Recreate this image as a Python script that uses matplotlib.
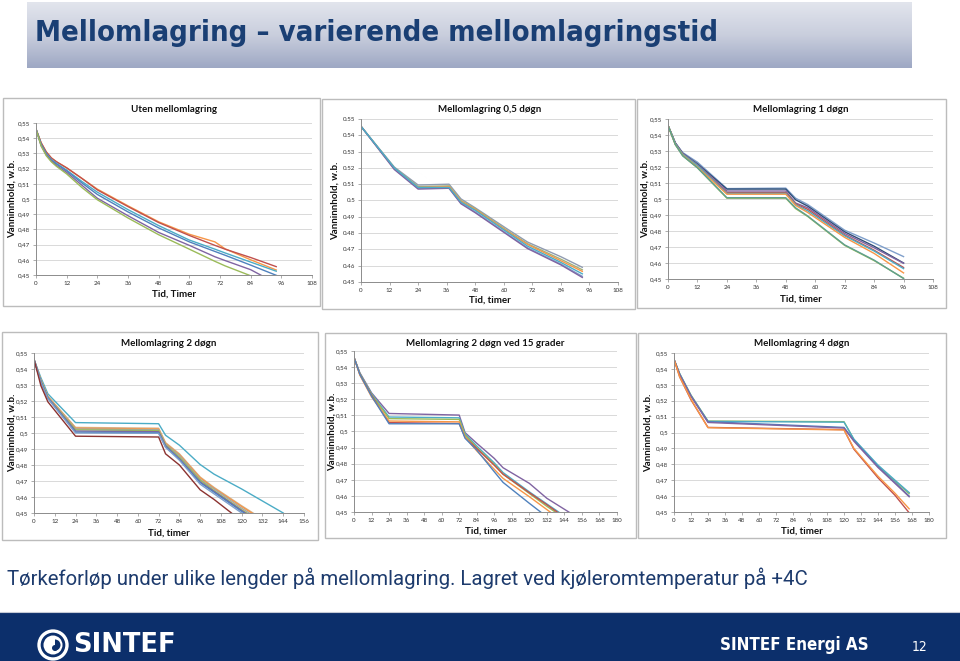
import numpy as np
import matplotlib
matplotlib.use("Agg")
import matplotlib.pyplot as plt
from matplotlib.patches import Rectangle, Circle, Wedge
from matplotlib.colors import LinearSegmentedColormap
from matplotlib.ticker import FuncFormatter, MultipleLocator

# ---------------- data ----------------
slide_title = "Mellomlagring – varierende mellomlagringstid"
caption = "Tørkeforløp under ulike lengder på mellomlagring. Lagret ved kjøleromtemperatur på +4C"
footer_org = "SINTEF Energi AS"
page_no = "12"

ylabel = "Vanninnhold, w.b."

# Panel 1: Uten mellomlagring
p1_title = "Uten mellomlagring"
p1_xlabel = "Tid, Timer"
p1_t = [0, 2, 4, 6, 8, 12, 18, 24, 36, 48, 60, 70, 74, 84, 94]
p1_orange = [.546, .537, .531, .527, .5245, .5205, .5135, .5065, .4955, .485, .4768, .4718, .4672, .460, .4533]
p1_red = [.546, .537, .531, .527, .5245, .5205, .5135, .506, .495, .4845, .4760, .4695, .4670, .4615, .4555]
p1_aqua = [.546, .536, .530, .526, .5235, .519, .5115, .5045, .493, .4825, .473, .467, .4645, .4585, .4525]
p1_blue = [.546, .536, .5295, .5255, .523, .5185, .5105, .503, .4915, .481, .4718, .4655, .463, .4565, .4498]
p1_purple = [.546, .535, .529, .525, .522, .5175, .509, .5005, .489, .478, .4695, .462, .4595, .4535, .4445]
p1_green = [.546, .535, .5285, .5245, .5215, .5165, .5075, .4995, .4875, .4765, .467, .459, .456, .4495, .444]

# Panel 2: Mellomlagring 0,5 døgn
p2_title = "Mellomlagring 0,5 døgn"
p2_xlabel = "Tid, timer"
p2_t = [0, 14, 24, 37, 42, 48, 62, 70, 84, 93]
p2_s1 = [.5455, .5205, .5095, .5100, .5010, .4955, .4820, .4745, .4655, .4590]
p2_s2 = [.5455, .5200, .5085, .5090, .5000, .4950, .4810, .4735, .4640, .4575]
p2_s3 = [.5455, .5195, .5080, .5085, .4995, .4945, .4805, .4730, .4630, .4565]
p2_s4 = [.5455, .5195, .5075, .5075, .4985, .4930, .4790, .4710, .4610, .4535]
p2_s5 = [.5455, .5190, .5070, .5075, .4980, .4925, .4785, .4705, .4605, .4528]
p2_s6 = [.5455, .5200, .5080, .5080, .4990, .4940, .4800, .4720, .4620, .4550]

# Panel 3: Mellomlagring 1 døgn
p3_title = "Mellomlagring 1 døgn"
p3_xlabel = "Tid, timer"
p3_t = [0, 3, 6, 12, 24, 48, 52, 57, 72, 84, 96]
p3_lightblue = [.546, .535, .529, .523, .5065, .5068, .5005, .4965, .4805, .4725, .4640]
p3_darkblue = [.546, .535, .5285, .522, .5062, .5062, .4995, .4955, .4795, .4705, .4600]
p3_purple = [.546, .535, .5285, .5215, .5050, .5050, .4975, .4945, .4785, .4695, .4598]
p3_red = [.546, .5345, .528, .521, .5040, .5040, .4970, .4935, .4775, .4680, .4572]
p3_aqua = [.546, .5345, .528, .521, .5035, .5035, .4965, .4925, .4770, .4675, .4565]
p3_orange = [.546, .534, .5275, .520, .5030, .5030, .4960, .4915, .4760, .4660, .4538]
p3_green = [.546, .534, .527, .5195, .5005, .5005, .4940, .4890, .4710, .4615, .4505]
p3_teal = [.546, .534, .527, .5195, .5008, .5008, .4945, .4893, .4713, .4618, .4503]

# Panel 4: Mellomlagring 2 døgn
p4_title = "Mellomlagring 2 døgn"
p4_xlabel = "Tid, timer"
p4_t = [0, 4, 8, 24, 72, 76, 84, 96, 104, 120, 144]
p4_aqua = [.546, .5345, .5245, .5065, .5058, .4986, .4924, .4803, .4743, .4650, .4500]
p4_s1 = [.546, .533, .5230, .5035, .5030, .4940, .4870, .4725, .4660, .4545, .4380]
p4_s2 = [.546, .533, .5228, .5030, .5025, .4935, .4865, .4720, .4655, .4540, .4375]
p4_s3 = [.546, .5325, .5225, .5025, .5020, .4930, .4860, .4710, .4650, .4530, .4365]
p4_s4 = [.546, .5325, .5222, .5020, .5015, .4925, .4850, .4705, .4640, .4520, .4355]
p4_s5 = [.546, .532, .5220, .5012, .5008, .4920, .4840, .4695, .4635, .4515, .4345]
p4_s6 = [.546, .532, .5218, .5005, .5002, .4915, .4835, .4690, .4630, .4510, .4340]
p4_s7 = [.546, .5315, .5215, .5000, .4998, .4910, .4830, .4680, .4620, .4500, .4330]
p4_darkred = [.546, .5295, .5195, .4980, .4975, .4870, .4800, .4645, .4585, .4450, .4250]

# Panel 5: Mellomlagring 2 døgn ved 15 grader
p5_title = "Mellomlagring 2 døgn ved 15 grader"
p5_xlabel = "Tid, timer"
p5_t = [0, 4, 12, 24, 72, 76, 84, 96, 102, 120, 132, 150]
p5_purple = [.546, .5365, .5240, .5112, .5102, .4993, .4927, .4833, .4775, .4678, .4585, .4483]
p5_aqua = [.546, .5360, .5235, .5090, .5085, .4985, .4910, .4805, .4745, .4625, .4550, .4438]
p5_green = [.546, .5360, .5230, .5080, .5075, .4978, .4900, .4795, .4735, .4615, .4535, .4425]
p5_red = [.546, .5355, .5225, .5055, .5050, .4965, .4895, .4790, .4735, .4620, .4545, .4430]
p5_orange = [.546, .5350, .5215, .5065, .5060, .4965, .4880, .4765, .4709, .4595, .4515, .4395]
p5_blue = [.546, .5355, .5220, .5048, .5048, .4958, .4885, .4750, .4684, .4554, .4470, .4370]

# Panel 6: Mellomlagring 4 døgn
p6_title = "Mellomlagring 4 døgn"
p6_xlabel = "Tid, timer"
p6_t = [0, 4, 12, 24, 120, 127, 144, 156, 166]
p6_green = [.546, .537, .5235, .5072, .5068, .4955, .4790, .4695, .4615]
p6_aqua = [.546, .537, .5232, .5070, .5065, .4958, .4795, .4700, .4622]
p6_blue = [.546, .5365, .5230, .5068, .5032, .4950, .4785, .4685, .4600]
p6_purple = [.546, .5365, .5228, .5063, .5028, .4945, .4780, .4680, .4596]
p6_red = [.546, .5350, .5205, .5032, .5018, .4895, .4715, .4605, .4495]
p6_orange = [.546, .5350, .5210, .5030, .5016, .4900, .4725, .4618, .4520]

# ---------------- style ----------------
C_BLUE, C_RED, C_GREEN, C_PURPLE, C_AQUA, C_ORANGE = "#4F81BD", "#C0504D", "#9BBB59", "#8064A2", "#4BACC6", "#F79646"
C_DBLUE, C_DRED, C_DGREEN, C_LBLUE, C_TAN = "#2C4D75", "#8B3230", "#5F9F8F", "#7F9FCB", "#D4B48C"
NAVY = "#0c2f6b"
TITLE_BLUE = "#1a3f74"
CHART_FONT = ["Lato", "DejaVu Sans"]

W, H = 960, 661
fig = plt.figure(figsize=(W / 100, H / 100), dpi=100)
fig.patch.set_facecolor("white")

# overlay axes in pixel coordinates
bg = fig.add_axes([0, 0, 1, 1], zorder=0)
bg.set_xlim(0, W)
bg.set_ylim(H, 0)
bg.axis("off")

# banner gradient
cmap = LinearSegmentedColormap.from_list("ban", ["#e2e5ed", "#c9cedd", "#9ea8c4"])
grad = np.linspace(0, 1, 100).reshape(-1, 1)
bg.imshow(grad, cmap=cmap, extent=[27, 912, 68, 2], aspect="auto", zorder=1)
bg.text(35, 33, slide_title, fontsize=21, fontweight="bold", color=TITLE_BLUE,
        family="DejaVu Sans", fontstretch="condensed", va="center", ha="left", zorder=2)

# caption
bg.text(7, 578, caption, fontsize=14.7, color="#1d3b6d", family=["Roboto", "DejaVu Sans"],
        fontweight="normal", va="center", ha="left", zorder=2)

# footer
bg.add_patch(Rectangle((0, 612), W, 49, facecolor=NAVY, edgecolor="none", zorder=1))
bg.plot([0, W], [611.5, 611.5], color="#c5cad6", lw=0.8, zorder=1)
# logo
bg.add_patch(Circle((53, 645), 14, facecolor="none", edgecolor="white", lw=2.4, zorder=2))
bg.add_patch(Circle((53, 645), 9.5, facecolor="white", edgecolor="none", zorder=2))
bg.add_patch(Wedge((55, 645), 5.5, 270, 90, facecolor=NAVY, edgecolor="none", zorder=3))
bg.add_patch(Circle((55, 648), 3.0, facecolor=NAVY, edgecolor="none", zorder=3))
bg.text(73, 645, "SINTEF", fontsize=18.5, fontweight="bold", color="white",
        family="DejaVu Sans", va="center", ha="left", zorder=2)
bg.text(720, 645, footer_org, fontsize=12.2, color="white", family="DejaVu Sans",
        fontstretch="condensed", fontweight="bold", va="center", ha="left", zorder=2)
bg.text(912, 647, page_no, fontsize=10, color="white", family="DejaVu Sans",
        fontstretch="condensed", va="center", ha="left", zorder=2)

# panel frames (pixel coords: left, top, right, bottom)
frames = [(3, 98, 320, 306), (322, 99, 635, 309), (637, 99, 946, 308),
          (2, 332, 318, 540), (325, 333, 636, 538), (638, 333, 946, 538)]
for (l, t, r, b) in frames:
    bg.add_patch(Rectangle((l, t), r - l, b - t, facecolor="white",
                           edgecolor="#bcbcbc", lw=1.0, zorder=1))


def make_panel(box, xmax, xstep, title, xlabel, t, series, decimal=",",
               title_y=None, xlabel_y=None, ylabel_x=None):
    l, t_, r, b = box
    ax = fig.add_axes([l / W, 1 - b / H, (r - l) / W, (b - t_) / H], zorder=2)
    ax.patch.set_alpha(0)
    for vals, col in series:
        ax.plot(t, vals, color=col, lw=1.0, solid_joinstyle="round")
    ax.set_xlim(0, xmax)
    ax.set_ylim(0.45, 0.55)
    ax.xaxis.set_major_locator(MultipleLocator(xstep))
    ax.yaxis.set_major_locator(MultipleLocator(0.01))

    def fmt(v, pos):
        s = ("%.2f" % v).rstrip("0")
        return s.replace(".", decimal)
    ax.yaxis.set_major_formatter(FuncFormatter(fmt))
    ax.grid(axis="y", color="#d9d9d9", lw=0.7)
    ax.set_axisbelow(True)
    for sp in ["top", "right"]:
        ax.spines[sp].set_visible(False)
    for sp in ["left", "bottom"]:
        ax.spines[sp].set_color("#8c8c8c")
        ax.spines[sp].set_linewidth(0.7)
    ax.tick_params(axis="both", labelsize=4.5, length=2, width=0.5, color="#8c8c8c", pad=2,
                   labelcolor="#333333")
    for lab in ax.get_xticklabels() + ax.get_yticklabels():
        lab.set_family(CHART_FONT)
    bg.text((l + r) / 2, title_y, title, fontsize=7, fontweight="bold", family=CHART_FONT,
            ha="center", va="center", color="#111111", zorder=3)
    bg.text((l + r) / 2, xlabel_y, xlabel, fontsize=7, fontweight="bold", family=CHART_FONT,
            ha="center", va="center", color="#111111", zorder=3)
    bg.text(ylabel_x, (t_ + b) / 2, ylabel, fontsize=7, fontweight="bold", family=CHART_FONT,
            ha="center", va="center", rotation=90, color="#111111", zorder=3)
    return ax


make_panel((36, 123, 312, 275), 108, 12, p1_title, p1_xlabel, p1_t,
           [(p1_orange, C_ORANGE), (p1_red, C_RED), (p1_aqua, C_AQUA), (p1_blue, C_BLUE),
            (p1_purple, C_PURPLE), (p1_green, C_GREEN)],
           decimal=",", title_y=110, xlabel_y=294, ylabel_x=12)

make_panel((361, 119, 618, 282), 108, 12, p2_title, p2_xlabel, p2_t,
           [(p2_s1, "#8f9bb0"), (p2_s2, "#a3b07a"), (p2_s3, C_ORANGE), (p2_s4, C_LBLUE),
            (p2_s5, C_PURPLE), (p2_s6, C_AQUA)],
           decimal=".", title_y=110, xlabel_y=300, ylabel_x=335)

make_panel((668, 119, 933, 279), 108, 12, p3_title, p3_xlabel, p3_t,
           [(p3_lightblue, C_LBLUE), (p3_darkblue, C_DBLUE), (p3_purple, C_PURPLE),
            (p3_red, C_RED), (p3_aqua, C_AQUA), (p3_orange, C_ORANGE),
            (p3_green, C_GREEN), (p3_teal, C_DGREEN)],
           decimal=",", title_y=110, xlabel_y=299, ylabel_x=645)

make_panel((34, 353, 304, 513), 156, 12, p4_title, p4_xlabel, p4_t,
           [(p4_aqua, C_AQUA), (p4_s1, C_TAN), (p4_s2, C_ORANGE), (p4_s3, "#a6a6a6"),
            (p4_s4, C_GREEN), (p4_s5, C_PURPLE), (p4_s6, C_BLUE), (p4_s7, C_LBLUE),
            (p4_darkred, C_DRED)],
           decimal=",", title_y=344, xlabel_y=533, ylabel_x=12)

make_panel((354, 351, 617, 512), 180, 12, p5_title, p5_xlabel, p5_t,
           [(p5_purple, C_PURPLE), (p5_aqua, C_AQUA), (p5_green, C_GREEN),
            (p5_red, C_RED), (p5_orange, C_ORANGE), (p5_blue, C_BLUE)],
           decimal=",", title_y=344, xlabel_y=531, ylabel_x=332)

make_panel((674, 353, 929, 512), 180, 12, p6_title, p6_xlabel, p6_t,
           [(p6_green, C_GREEN), (p6_aqua, C_AQUA), (p6_blue, C_BLUE),
            (p6_purple, C_PURPLE), (p6_red, C_RED), (p6_orange, C_ORANGE)],
           decimal=",", title_y=344, xlabel_y=531, ylabel_x=648)

fig.savefig("out.png", dpi=100)
